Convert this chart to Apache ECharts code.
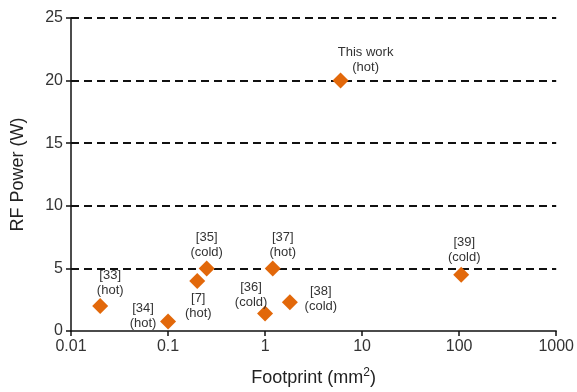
<!DOCTYPE html>
<html>
<head>
<meta charset="utf-8">
<script src="https://cdn.jsdelivr.net/npm/echarts@6/dist/echarts.min.js"></script>
<style>html,body{margin:0;padding:0;background:#fff}#c{width:577px;height:392px}</style>
</head>
<body>
<div id="c"></div>
<script>
var refs = ['This work', '[33]', '[34]', '[7]', '[35]', '[36]', '[37]', '[38]', '[39]'];
var kinds = ['hot', 'hot', 'hot', 'hot', 'cold', 'cold', 'hot', 'cold', 'cold'];
var footprint = [6, 0.02, 0.1, 0.2, 0.25, 1.0, 1.2, 1.8, 105];
var rfPower = [20, 2.0, 0.75, 4.0, 5.0, 1.4, 5.0, 2.3, 4.5];
var xTicks = ['0.01', '0.1', '1', '10', '100', '1000'];
var yTicks = [0, 5, 10, 15, 20, 25];

var labelOffsets = [[25, -21], [10, -23], [-25, -6], [1, 25], [0, -23], [-14, -19], [10, -23], [31, -3], [3, -25]];

var data = footprint.map(function (x, i) {
  return {
    value: [x, rfPower[i]],
    label: { offset: labelOffsets[i], formatter: refs[i] + '\n(' + kinds[i] + ')' }
  };
});

var chart = echarts.init(document.getElementById('c'), null, { renderer: 'canvas' });
chart.setOption({
  animation: false,
  grid: { left: 71, right: 20, top: 18, bottom: 58 },
  xAxis: {
    type: 'log', logBase: 10, min: 0.01, max: 1000,
    name: 'Footprint (mm{sup|2})',
    nameLocation: 'middle', nameGap: 36,
    nameTextStyle: {
      fontFamily: 'Liberation Sans', fontSize: 18, color: '#222',
      rich: { sup: { fontSize: 12, verticalAlign: 'top', padding: [0, 0, 10, 0], color: '#222', fontFamily: 'Liberation Sans' } }
    },
    axisLine: { lineStyle: { color: '#111', width: 1.5 } },
    axisTick: { show: true, length: 5, inside: false, lineStyle: { color: '#111', width: 1.5 } },
    minorTick: { show: false },
    splitLine: { show: false },
    axisLabel: {
      fontFamily: 'Liberation Sans', fontSize: 16, color: '#333', margin: 8,
      formatter: function (v) {
        var e = Math.round(Math.log10(v));
        return xTicks[e + 2];
      }
    }
  },
  yAxis: {
    type: 'value', min: 0, max: 25, interval: 5,
    name: 'RF Power (W)',
    nameLocation: 'middle', nameGap: 44,
    nameTextStyle: { fontFamily: 'Liberation Sans', fontSize: 18, color: '#222' },
    axisLine: { show: true, lineStyle: { color: '#111', width: 1.5 } },
    axisTick: { show: true, length: 5, lineStyle: { color: '#111', width: 1.5 } },
    splitLine: { show: true, showMinLine: false, lineStyle: { color: '#111', width: 2, type: [8, 5] } },
    axisLabel: {
      fontFamily: 'Liberation Sans', fontSize: 16, color: '#333', margin: 8,
      formatter: function (v) { return yTicks.indexOf(v) >= 0 ? String(v) : ''; }
    }
  },
  series: [{
    type: 'scatter',
    symbol: 'diamond',
    symbolSize: 16,
    itemStyle: { color: '#E2680A', opacity: 1 },
    label: {
      show: true, position: 'inside',
      fontFamily: 'Liberation Sans', fontSize: 13, color: '#333',
      lineHeight: 15, align: 'center', verticalAlign: 'middle'
    },
    data: data
  }]
});
</script>
</body>
</html>
